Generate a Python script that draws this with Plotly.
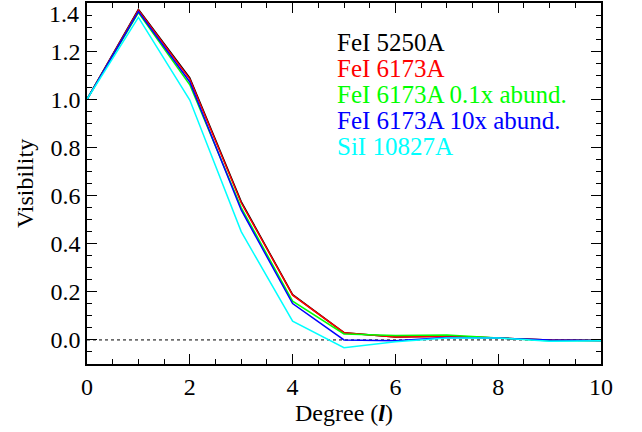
import plotly.graph_objects as go

degree = [0, 1, 2, 3, 4, 5, 6, 7, 8, 9, 10]
fe5250 = [1.0, 1.374, 1.089, 0.575, 0.188, 0.030, 0.012, 0.015, 0.008, 0.0, -0.002]
fe6173 = [1.0, 1.370, 1.084, 0.570, 0.186, 0.030, 0.012, 0.015, 0.008, 0.0, -0.002]
fe6173_low = [1.0, 1.360, 1.060, 0.550, 0.161, 0.025, 0.018, 0.020, 0.008, -0.003, -0.002]
fe6173_high = [1.0, 1.364, 1.072, 0.540, 0.151, 0.000, -0.003, 0.010, 0.008, 0.0, -0.002]
si10827 = [1.0, 1.340, 0.997, 0.450, 0.078, -0.032, -0.008, 0.008, 0.008, -0.005, -0.003]

names = ["FeI 5250A", "FeI 6173A", "FeI 6173A 0.1x abund.", "FeI 6173A 10x abund.", "SiI 10827A"]
colors = ["#000000", "#ff0000", "#00ff00", "#0000ff", "#00ffff"]
series = [fe5250, fe6173, fe6173_low, fe6173_high, si10827]

y_ticks = [0.0, 0.2, 0.4, 0.6, 0.8, 1.0, 1.2, 1.4]
y_ticktext = ["0.0", "0.2", "0.4", "0.6", "0.8", "1.0", "1.2", ""]
x_ticks = [0, 2, 4, 6, 8, 10]

font_family = "Liberation Serif"
W, H = 642, 432
ml, mr, mt, mb = 87, 41, 1, 68
pw, ph = W - ml - mr, H - mt - mb

fig = go.Figure()
fig.add_trace(go.Scatter(x=[0, 10], y=[0, 0], mode="lines",
                         line=dict(color="black", width=1, dash="dot"),
                         showlegend=False, hoverinfo="skip"))
for name, col, ys in zip(names, colors, series):
    fig.add_trace(go.Scatter(x=degree, y=ys, mode="lines", name=name,
                             line=dict(color=col, width=1.5), showlegend=False))

for i, (name, col) in enumerate(zip(names, colors)):
    px_x, px_y = 335, 41 + 26 * i
    fig.add_annotation(x=(px_x - ml) / pw, y=1 - (px_y - mt) / ph, xref="paper", yref="paper",
                       text=name, showarrow=False, xanchor="left", yanchor="middle",
                       font=dict(family=font_family, size=25, color=col))

# top y tick label (drawn just inside the image, as in the reference)
fig.add_annotation(x=0, y=1 + (mt) / ph, xref="paper", yref="paper", text="1.4",
                   showarrow=False, xanchor="right", yanchor="top", xshift=-6, yshift=3,
                   font=dict(family=font_family, size=24, color="black"))

axis_common = dict(
    showgrid=False, zeroline=False, showline=True, linecolor="black", linewidth=1.5,
    mirror="ticks", ticks="inside", ticklen=10, tickwidth=1.2, tickcolor="black",
    tickfont=dict(family=font_family, size=24, color="black"),
)

fig.update_layout(
    width=W, height=H,
    margin=dict(l=ml, r=mr, t=mt, b=mb),
    plot_bgcolor="white", paper_bgcolor="white",
    xaxis=dict(range=[0, 10], tickvals=x_ticks,
               minor=dict(dtick=0.5, ticklen=5, ticks="inside", tickcolor="black", tickwidth=1.2),
               title=dict(text="Degree (<b><i>l</i></b>)", standoff=2,
                          font=dict(family=font_family, size=24, color="black")),
               **axis_common),
    yaxis=dict(range=[-0.1, 1.4], tickvals=y_ticks, ticktext=y_ticktext,
               minor=dict(dtick=0.05, tick0=0, ticklen=5, ticks="inside", tickcolor="black", tickwidth=1.2),
               title=dict(text="Visibility", standoff=10,
                          font=dict(family=font_family, size=24, color="black")),
               **axis_common),
    showlegend=False,
)

fig.write_html("out.html", config={"displayModeBar": False},
               post_script="document.body.style.margin='0';document.body.style.padding='0';")
